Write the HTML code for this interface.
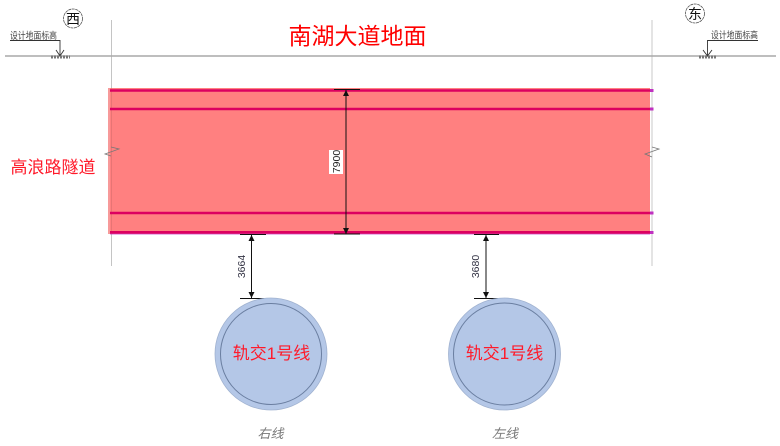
<!DOCTYPE html>
<html><head><meta charset="utf-8"><style>
html,body{margin:0;padding:0;background:#fff}
svg{display:block}
</style></head><body>
<svg xmlns="http://www.w3.org/2000/svg" width="780" height="446" viewBox="0 0 780 446" font-family="'Liberation Sans','Noto Sans CJK SC',sans-serif">
<defs>
<marker id="a" viewBox="0 0 10 10" refX="10" refY="5" markerWidth="9" markerHeight="6" markerUnits="userSpaceOnUse" orient="auto-start-reverse"><path d="M0 0L10 5L0 10z" fill="#111"/></marker>
</defs>
<rect x="108" y="88" width="542" height="146" fill="#ff8080"/>
<rect x="108" y="88" width="2" height="146" fill="#f79a9a"/>
<line x1="111.500" y1="20" x2="111.500" y2="88" stroke="#c4c4c4"/>
<line x1="111.500" y1="88" x2="111.500" y2="234" stroke="#e87474"/>
<line x1="111.500" y1="234" x2="111.500" y2="266" stroke="#c4c4c4"/>
<line x1="652" y1="20" x2="652" y2="266" stroke="#cacaca"/>
<line x1="5" y1="56" x2="776" y2="56" stroke="#a8a8a8" stroke-width="1.500"/>
<g fill="#c030c0">
<rect x="650" y="89" width="3.500" height="3"/><rect x="650" y="107.500" width="3.500" height="3"/><rect x="650" y="211.500" width="3.500" height="3"/><rect x="650" y="231" width="3.500" height="3"/>
<rect x="110" y="233" width="540" height="1.500" opacity=".7"/>
</g>
<g stroke="#dc0060" stroke-width="2.600">
<line x1="110" y1="90.500" x2="650" y2="90.500"/>
<line x1="110" y1="109" x2="650" y2="109"/>
<line x1="110" y1="213" x2="650" y2="213"/>
<line x1="110" y1="232.300" x2="650" y2="232.300"/>
</g>
<path d="M111 147L119 149L105 154L111 156" fill="none" stroke="#777" stroke-width=".8"/>
<path d="M652 147L659 149L645 154L652 157" fill="none" stroke="#777" stroke-width=".8"/>

<!-- dims -->
<g stroke="#111" stroke-width="1">
<line x1="334" y1="89.500" x2="360" y2="89.500"/>
<line x1="334" y1="234" x2="360" y2="234"/>
<line x1="346" y1="90" x2="346" y2="234" marker-start="url(#a)" marker-end="url(#a)"/>
<line x1="240" y1="234.500" x2="266" y2="234.500"/>
<line x1="240" y1="298.500" x2="266" y2="298.500"/>
<line x1="251.500" y1="235" x2="251.500" y2="298" marker-start="url(#a)" marker-end="url(#a)"/>
<line x1="474" y1="234.500" x2="499" y2="234.500"/>
<line x1="474" y1="298.500" x2="499" y2="298.500"/>
<line x1="486" y1="235" x2="486" y2="298" marker-start="url(#a)" marker-end="url(#a)"/>
</g>
<rect x="329" y="150" width="14" height="24" fill="#fff"/>
<text transform="translate(340,161.500) rotate(-90)" font-size="10.500" text-anchor="middle" fill="#222">7900</text>
<text transform="translate(245,266.500) rotate(-90)" font-size="10.500" text-anchor="middle" fill="#334">3664</text>
<text transform="translate(479,266.500) rotate(-90)" font-size="10.500" text-anchor="middle" fill="#334">3680</text>

<!-- circles -->
<g>
<circle cx="271" cy="354" r="56" fill="#b4c7e7" stroke="#a0b2d0" stroke-width=".8"/>
<circle cx="271" cy="354" r="50.500" fill="none" stroke="#6a7ea0" stroke-width="1"/>
<circle cx="504.500" cy="354" r="56" fill="#b4c7e7" stroke="#a0b2d0" stroke-width=".8"/>
<circle cx="504.500" cy="354" r="51" fill="none" stroke="#6a7ea0" stroke-width="1"/>
</g>
<text x="271.500" y="359" font-size="17" text-anchor="middle" fill="#ff1a2a">轨交1号线</text>
<text x="504.500" y="359" font-size="17" text-anchor="middle" fill="#ff1a2a">轨交1号线</text>
<text x="270.500" y="438" font-size="13" font-style="italic" text-anchor="middle" fill="#777">右线</text>
<text x="505" y="438" font-size="13" font-style="italic" text-anchor="middle" fill="#777">左线</text>

<text x="357.500" y="44" font-size="23" text-anchor="middle" fill="#ff0000">南湖大道地面</text>
<text x="53" y="173" font-size="17" text-anchor="middle" fill="#ff1a2a">高浪路隧道</text>

<!-- west/east marks -->
<circle cx="73" cy="18.500" r="9.500" fill="#fff" stroke="#555" stroke-width=".8" stroke-dasharray="3 .6"/>
<text x="73" y="24" font-size="14" text-anchor="middle" fill="#111">西</text>
<circle cx="695" cy="13.500" r="9.500" fill="#fff" stroke="#555" stroke-width=".8" stroke-dasharray="3 .6"/>
<text x="695" y="19" font-size="14" text-anchor="middle" fill="#111">东</text>

<!-- elevation marks -->
<text x="33.500" y="39" font-size="9.500" text-anchor="middle" fill="#444" textLength="47" lengthAdjust="spacingAndGlyphs">设计地面标高</text>
<path d="M10 40.500H60V55M56 50L60 56L64 50" fill="none" stroke="#333" stroke-width=".9"/>
<path d="M51 57H70" stroke="#777" stroke-width="3" stroke-dasharray="2 1"/>
<text x="734.500" y="38.500" font-size="9.500" text-anchor="middle" fill="#444" textLength="47" lengthAdjust="spacingAndGlyphs">设计地面标高</text>
<path d="M758 40.500H707.500V55M703 50L707.500 56L712 50" fill="none" stroke="#333" stroke-width=".9"/>
<path d="M699 57H717" stroke="#777" stroke-width="3" stroke-dasharray="2 1"/>
</svg>
</body></html>
